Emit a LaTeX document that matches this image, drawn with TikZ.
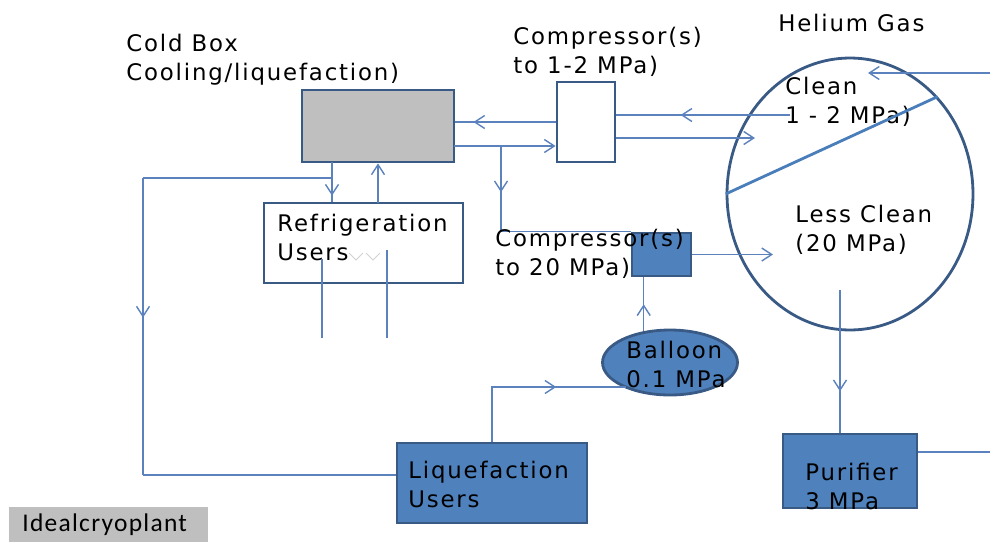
\documentclass[tikz,border=0pt]{standalone}
\usepackage{fontspec}
\setmainfont{DejaVu Sans}[LetterSpace=8]
\newfontfamily\capfont{Carlito}[LetterSpace=5]
\usetikzlibrary{positioning,shapes.geometric,arrows.meta,decorations.markings,calc}

\definecolor{flowc}{HTML}{5B82BC}
\definecolor{edgec}{HTML}{3A5A86}
\definecolor{bluef}{HTML}{4F81BD}
\definecolor{greyf}{HTML}{BFBFBF}
\definecolor{splitc}{HTML}{4A7EBB}

\begin{document}
\begin{tikzpicture}[
  x=0.02cm, y=-0.02cm,
  font=\fontsize{13}{16.5}\selectfont,
  unit/.style={draw=edgec, line width=1.6pt, inner sep=0pt, fill=white},
  hot/.style={unit, fill=bluef},
  lbl/.style={anchor=west, align=left, inner sep=0pt},
  flow/.style={draw=flowc, line width=0.8pt},
  tip/.style={-{Straight Barb[length=2mm,width=2.6mm]}},
  midarr/.style={decoration={markings,
      mark=at position #1 with {\arrow{Straight Barb[length=2mm,width=2.6mm]}}},
      postaction={decorate}},
  divider/.style={draw=splitc, line width=1.6pt}
]
\useasboundingbox (0,0) rectangle (990,542);

% ---------------- units ----------------
\node[unit, fill=greyf, minimum width=3.04cm, minimum height=1.44cm] (cbox) at (378,126) {};
\node[unit, minimum width=1.16cm, minimum height=1.6cm] (cmplo) at (586,122) {};
\node[hot, minimum width=1.18cm, minimum height=0.86cm] (cmphi) at (661.5,254.5) {};
\node[unit, minimum width=3.98cm, minimum height=1.6cm] (refu) at (363.5,243) {};
\node[hot, minimum width=3.8cm, minimum height=1.6cm] (liqu) at (492,483) {};
\node[hot, minimum width=2.68cm, minimum height=1.48cm] (puri) at (850,471) {};
\node[hot, ellipse, minimum width=2.7cm, minimum height=1.3cm] (ball) at (670,362.5) {};
\node[unit, ellipse, fill=none, minimum width=4.92cm, minimum height=5.44cm] (hegas) at (850,194) {};
\node[fill=greyf, minimum width=3.98cm, minimum height=0.7cm, inner sep=0pt] (tagbox) at (108.5,524.5) {};

% ---------------- labels ----------------
\node[lbl] (cboxlab) at (126,60) {Cold Box\\Cooling/liquefaction)};
\node[lbl] (cmplolab) at (513,52) {Compressor(s)\\to 1-2 MPa)};
\node[lbl] (helab) at (778,23) {Helium Gas};
\node[lbl] (cleanlab) at (785,102) {Clean\\1 - 2 MPa)};
\node[lbl] (dirtylab) at (795,230) {Less Clean\\(20 MPa)};
\node[lbl] (refulab) at (277,237) {Refrigeration\\Users};
\node[lbl] (liqulab) at (408,484) {Liquefaction\\Users};
\node[lbl] (purilab) at (805,486) {Purifier\\3 MPa};
\node[lbl, font=\capfont\fontsize{14.5}{17}\selectfont] (taglab) at (22,525) {Idealcryoplant};

% ---------------- helium store ----------------
\draw[divider] (hegas.west) -- (hegas.48);
\coordinate (feed) at (990,73);
\coordinate (cleanin) at (868,73);
\coordinate (cleanout) at (790,115);
\coordinate (cleanret) at (755,138);
\coordinate (dirtyin) at (773,254.5);
\coordinate (dirtyout) at (840,290);
\coordinate (puriout) at (990,452);
\draw[flow, tip] (feed) -- (cleanin);
\draw[flow, midarr=0.63] (cleanout) -- (cleanout -| cmplo.east);
\draw[flow, tip] (cmplo.east |- cleanret) -- (cleanret);
\draw[flow, midarr=0.71] (dirtyout) -- (dirtyout |- puri.north);
\draw[flow] (puri.east |- puriout) -- (puriout);

% ---------------- cold box loop ----------------
\coordinate (cbout) at (454,146);
\coordinate (tee) at (501,146);
\draw[flow, midarr=0.82] (cmplo.west) -- (cmplo.west -| cbox.east);
\draw[flow, tip] (cbout) -- (cbout -| cmplo.west);
\draw[flow, midarr=0.54] (tee) -- (tee |- cmphi.north west);
\draw[flow] (tee |- cmphi.north west) -- (cmphi.north west);
\draw[flow, tip] (cmphi.east) -- (dirtyin);

% ---------------- balloon ----------------
\coordinate (ballin) at (626,387);
\draw[flow, midarr=0.5] (ball.130) -- (ball.130 |- cmphi.south);
\draw[flow, midarr=0.63] (liqu.north) |- (ballin);
\node[lbl] (balllab) at (626,364) {Balloon\\0.1 MPa};
\node[lbl] (cmphilab) at (495,254) {Compressor(s)\\to 20 MPa)};

% ---------------- refrigeration / liquefaction ----------------
\coordinate (cbdown) at (332,162);
\coordinate (loopt) at (332,178);
\coordinate (loopc) at (143,475);
\coordinate (refup) at (378,203);
\draw[flow, midarr=0.85] (cbdown) -- (cbdown |- refu.north);
\draw[flow] (loopt) -- (loopt -| loopc);
\draw[flow, midarr=0.47] (loopt -| loopc) -- (loopc);
\draw[flow] (loopc) -- (loopc -| liqu.west);
\draw[flow, tip] (refup) -- (refup |- cbox.south);
\coordinate (pipea) at (322,259);
\coordinate (pipeaend) at (322,338);
\coordinate (pipeb) at (387,250);
\coordinate (pipebend) at (387,338);
\draw[flow] (pipea) -- (pipeaend);
\draw[flow] (pipeb) -- (pipebend);
\draw[gray!35, line width=0.5pt] (349,253) -- (356,260) -- (363,253)
  (366,253) -- (373,260) -- (380,253);

\end{tikzpicture}
\end{document}
